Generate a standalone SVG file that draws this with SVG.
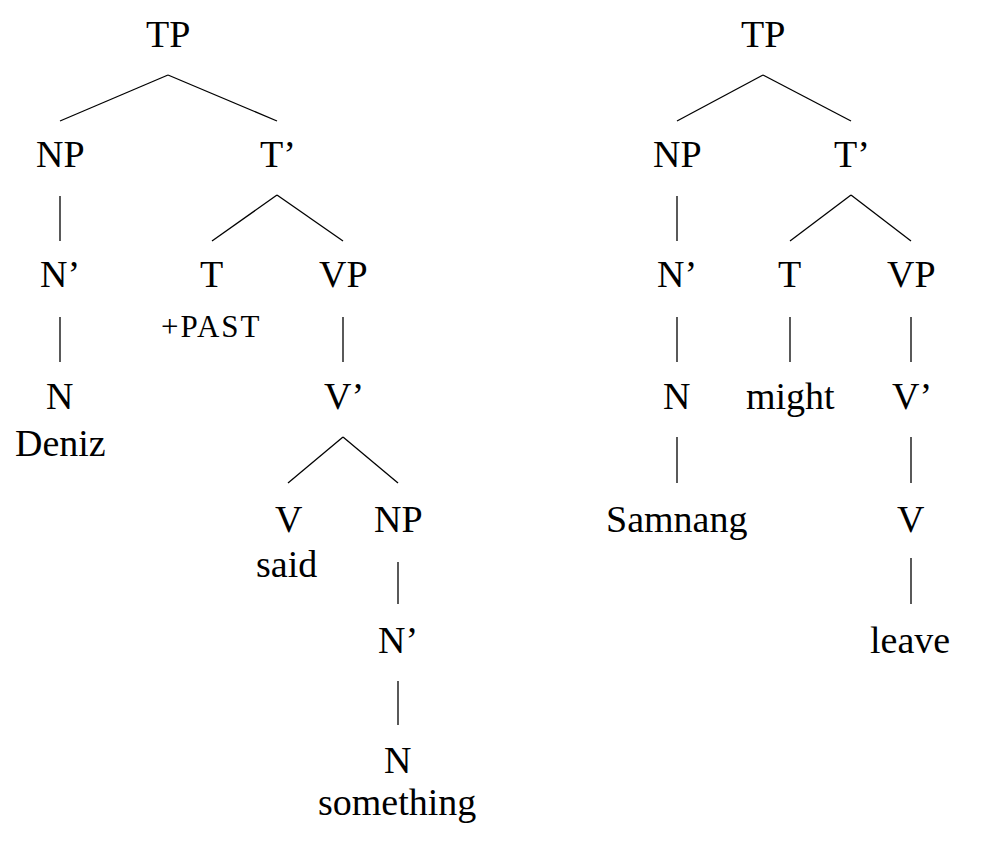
<svg xmlns="http://www.w3.org/2000/svg" width="990" height="850" viewBox="0 0 990 850">
<rect width="990" height="850" fill="#fff"/>
<g id="connectors" stroke="#000" stroke-width="1.3">
<line x1="168" y1="75" x2="60" y2="121"/>
<line x1="168" y1="75" x2="277" y2="121"/>
<line x1="60" y1="196" x2="60" y2="241"/>
<line x1="277" y1="195" x2="212" y2="241"/>
<line x1="277" y1="195" x2="343" y2="241"/>
<line x1="60" y1="317" x2="60" y2="362"/>
<line x1="343" y1="317" x2="343" y2="362"/>
<line x1="343" y1="437" x2="288" y2="483"/>
<line x1="343" y1="437" x2="398" y2="483"/>
<line x1="398" y1="562" x2="398" y2="604"/>
<line x1="398" y1="681" x2="398" y2="725"/>
<line x1="763" y1="75" x2="677" y2="121"/>
<line x1="763" y1="75" x2="851" y2="121"/>
<line x1="677" y1="196" x2="677" y2="241"/>
<line x1="851" y1="195" x2="790" y2="241"/>
<line x1="851" y1="195" x2="911" y2="241"/>
<line x1="677" y1="317" x2="677" y2="362"/>
<line x1="790" y1="317" x2="790" y2="362"/>
<line x1="911" y1="317" x2="911" y2="362"/>
<line x1="677" y1="437" x2="677" y2="483"/>
<line x1="911" y1="437" x2="911" y2="483"/>
<line x1="911" y1="558" x2="911" y2="604"/>
</g>
<g id="l-TP"><text x="146" y="47" font-family="Liberation Serif" font-size="38">TP</text></g>
<g id="l-NP"><text x="36" y="167" font-family="Liberation Serif" font-size="38">NP</text></g>
<g id="l-Tbar"><text x="260" y="167" font-family="Liberation Serif" font-size="38">T’</text></g>
<g id="l-Nbar"><text x="40" y="287" font-family="Liberation Serif" font-size="38">N’</text></g>
<g id="l-T"><text x="200" y="287" font-family="Liberation Serif" font-size="38">T</text><text x="161" y="337" font-family="Liberation Serif" font-size="31" letter-spacing="2">+PAST</text></g>
<g id="l-VP"><text x="319" y="287" font-family="Liberation Serif" font-size="38">VP</text></g>
<g id="l-N"><text x="46" y="409" font-family="Liberation Serif" font-size="38">N</text><text x="15" y="456" font-family="Liberation Serif" font-size="38">Deniz</text></g>
<g id="l-Vbar"><text x="324" y="409" font-family="Liberation Serif" font-size="38">V’</text></g>
<g id="l-V"><text x="275" y="532" font-family="Liberation Serif" font-size="38">V</text><text x="256" y="577" font-family="Liberation Serif" font-size="38">said</text></g>
<g id="l-NP2"><text x="374" y="532" font-family="Liberation Serif" font-size="38">NP</text></g>
<g id="l-Nbar2"><text x="378" y="653" font-family="Liberation Serif" font-size="38">N’</text></g>
<g id="l-N2"><text x="384" y="773" font-family="Liberation Serif" font-size="38">N</text><text x="318" y="815" font-family="Liberation Serif" font-size="38">something</text></g>
<g id="r-TP"><text x="741" y="47" font-family="Liberation Serif" font-size="38">TP</text></g>
<g id="r-NP"><text x="653" y="167" font-family="Liberation Serif" font-size="38">NP</text></g>
<g id="r-Tbar"><text x="834" y="167" font-family="Liberation Serif" font-size="38">T’</text></g>
<g id="r-Nbar"><text x="657" y="287" font-family="Liberation Serif" font-size="38">N’</text></g>
<g id="r-T"><text x="778" y="287" font-family="Liberation Serif" font-size="38">T</text></g>
<g id="r-VP"><text x="887" y="287" font-family="Liberation Serif" font-size="38">VP</text></g>
<g id="r-N"><text x="663" y="409" font-family="Liberation Serif" font-size="38">N</text></g>
<g id="r-might"><text x="746" y="409" font-family="Liberation Serif" font-size="38">might</text></g>
<g id="r-Vbar"><text x="892" y="409" font-family="Liberation Serif" font-size="38">V’</text></g>
<g id="r-Samnang"><text x="606" y="532" font-family="Liberation Serif" font-size="38">Samnang</text></g>
<g id="r-V"><text x="897" y="532" font-family="Liberation Serif" font-size="38">V</text></g>
<g id="r-leave"><text x="870" y="653" font-family="Liberation Serif" font-size="38">leave</text></g>
</svg>
